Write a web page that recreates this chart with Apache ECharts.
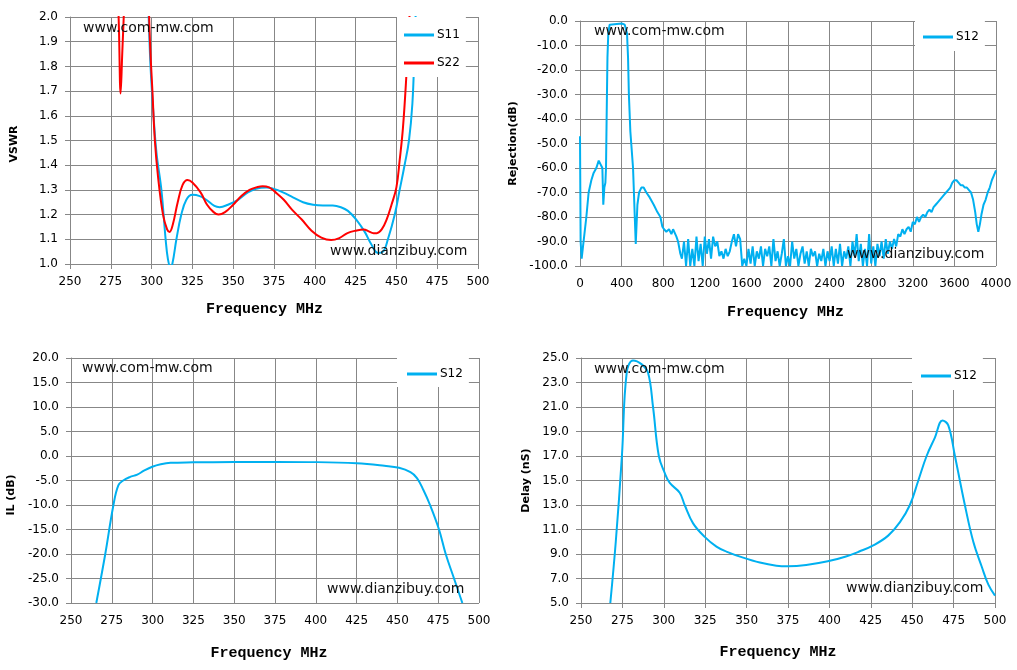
<!DOCTYPE html>
<html>
<head>
<meta charset="utf-8">
<script src="https://cdn.jsdelivr.net/npm/echarts@6/dist/echarts.min.js"></script>
<style>
html, body { margin: 0; padding: 0; background: #fff; }
#wrap { position: relative; width: 1017px; height: 670px; }
.box { position: absolute; width: 509px; height: 335px; }
</style>
</head>
<body>
<div id="wrap">
  <div class="box" id="vswr" style="left:0;top:0"></div>
  <div class="box" id="rejection" style="left:508px;top:0"></div>
  <div class="box" id="insertion" style="left:0;top:335px"></div>
  <div class="box" id="delay" style="left:508px;top:335px"></div>
</div>
<script>
// ======================
// DATA
// ======================
const s11Freq = [297, 299, 301, 303, 306, 308.6, 310, 311.5, 312.7, 315.2, 318.2, 321.3, 325, 329.5, 333.5, 338.5, 341.7, 346.8, 353, 359, 364, 370.3, 374.4, 380.5, 386.6, 392.8, 399, 405, 411, 416, 420.3, 425.4, 430.6, 434.6, 438.7, 441.8, 444.8, 449, 452, 455, 457.7, 459.8, 461, 462, 463.5];
const s11Vswr = [2.3, 1.85, 1.62, 1.45, 1.3, 1.1, 1.02, 0.99, 1.0, 1.1, 1.2, 1.26, 1.28, 1.275, 1.26, 1.235, 1.23, 1.24, 1.26, 1.29, 1.305, 1.31, 1.305, 1.29, 1.27, 1.25, 1.24, 1.237, 1.237, 1.23, 1.215, 1.18, 1.13, 1.08, 1.045, 1.05, 1.1, 1.2, 1.3, 1.4, 1.5, 1.65, 1.85, 2.05, 2.3];

const s22Freq = [278.5, 280, 281, 282, 283.5, 285, 292, 297, 299, 300.5, 302, 304, 307, 309.5, 311, 313, 316, 319, 322, 325, 330, 334, 338, 341, 345, 350, 355, 360, 365, 368, 372, 376, 381, 386, 392, 398, 404, 410, 415, 420, 425, 430, 433, 436, 438, 441, 444, 447, 450, 452, 454, 456, 458, 459.5];
const s22Vswr = [2.3, 1.95, 1.69, 1.85, 2.1, 2.4, 3.0, 2.3, 1.9, 1.7, 1.5, 1.35, 1.2, 1.14, 1.13, 1.16, 1.25, 1.32, 1.34, 1.33, 1.29, 1.24, 1.21, 1.2, 1.21, 1.24, 1.275, 1.3, 1.312, 1.315, 1.31, 1.29, 1.26, 1.22, 1.18, 1.135, 1.107, 1.097, 1.105, 1.125, 1.135, 1.14, 1.132, 1.125, 1.125, 1.14, 1.18, 1.24, 1.31, 1.42, 1.55, 1.75, 2.0, 2.3];

const rejFreq = [0, 6, 16, 29, 45, 61, 83, 109, 131, 157, 180, 199, 215, 224, 234, 244, 250, 256, 264, 272, 285, 300, 400, 430, 445, 452, 462, 470, 484, 510, 536, 552, 568, 590, 612, 638, 670, 709, 744, 773, 792, 808, 830, 856, 879, 895, 927, 943, 965, 980,
  1000, 1020, 1040, 1060, 1080, 1100, 1120, 1140, 1160, 1180, 1200, 1220, 1240, 1260, 1280, 1300, 1320, 1340, 1360, 1380, 1400, 1420, 1440, 1460, 1480, 1500, 1520, 1540, 1560, 1580,
  1600, 1620, 1640, 1660, 1680, 1700, 1720, 1740, 1760, 1780, 1800, 1820, 1840, 1860, 1880, 1900, 1920, 1940, 1960, 1980,
  2000, 2020, 2040, 2060, 2080, 2100, 2120, 2140, 2160, 2180, 2200, 2220, 2240, 2260, 2280, 2300, 2320, 2340, 2360, 2380,
  2400, 2420, 2440, 2460, 2480, 2500, 2520, 2540, 2560, 2580, 2600, 2620, 2640, 2660, 2680, 2700, 2720, 2740, 2760, 2780,
  2800, 2820, 2840, 2860, 2880, 2900, 2920, 2940, 2960, 2980, 3000, 3020, 3040, 3060, 3080, 3100, 3120, 3140, 3160, 3180,
  3200, 3220, 3240, 3260, 3280, 3300, 3320, 3340, 3360, 3380, 3400, 3420, 3440, 3460, 3480, 3500, 3520, 3540, 3560, 3580,
  3600, 3620, 3640, 3660, 3680, 3700, 3720, 3740, 3760, 3780, 3800, 3815, 3830, 3845, 3860, 3880, 3900, 3920, 3940, 3960, 3980, 4000];
const rejS12 = [-47, -90, -97, -92, -92, -80, -70, -65, -62, -60, -57, -57, -60, -75, -68, -66, -60, -40, -15, -5, -1.5, -1, -1, -1.5, -2, -5, -15, -30, -45, -60, -91, -75, -70, -68, -68, -70, -72, -75, -78, -80, -84, -85, -86, -85, -87, -85, -88, -90, -95, -97,
  -90, -100, -89, -100, -93, -100, -88, -98, -91, -100, -88, -95, -89, -97, -88, -92, -90, -96, -94, -97, -93, -96, -94, -90, -87, -92, -87, -89, -100, -97,
  -100, -93, -99, -92, -100, -94, -97, -92, -100, -93, -96, -92, -100, -89, -98, -94, -100, -95, -89, -100,
  -96, -100, -90, -97, -93, -100, -95, -92, -99, -94, -100, -93, -96, -94, -100, -95, -98, -93, -100, -94,
  -98, -92, -100, -93, -99, -91, -100, -94, -97, -92, -100, -90, -96, -87, -98, -91, -100, -93, -100, -87,
  -99, -92, -100, -91, -96, -90, -97, -89, -95, -90, -93, -89, -92, -87, -88, -85, -87, -85, -84, -86,
  -82, -83, -80, -82, -80, -79, -80, -78, -77, -78, -76, -75, -74, -73, -72, -71, -70, -69, -68, -66,
  -65, -65, -66, -67, -67, -68, -68, -69, -70, -73, -78, -83, -86, -83, -79, -75, -73, -70, -68, -65, -63, -61];

const ilFreq = [265.5, 271, 276, 279, 282, 286, 290.6, 294.7, 299.8, 305, 311, 325, 350, 376, 401, 425, 442, 451, 458, 462, 466, 470, 475.5, 479.6, 484.7, 489.8];
const ilS12 = [-30, -20, -10, -6, -5, -4.3, -3.8, -3, -2.2, -1.7, -1.4, -1.3, -1.2, -1.2, -1.25, -1.5, -2.0, -2.4, -3.3, -4.5, -7, -10, -15, -20, -25, -30];

const delayFreq = [267.7, 271, 274.7, 277.6, 281.4, 286.5, 290.5, 293.5, 297, 300.6, 303.6, 309.6, 312.6, 317.7, 324.7, 331.8, 337.8, 347.9, 358, 368, 375, 386, 399, 410, 418, 426.5, 435.5, 442.6, 448.6, 453.7, 458.7, 463.7, 468.3, 471.8, 475.8, 481.8, 486.9, 491.9, 496, 500];
const delayS12 = [5, 10, 17, 23.8, 24.8, 24.5, 23.8, 21, 17, 15.6, 14.8, 14, 13, 11.5, 10.4, 9.6, 9.2, 8.7, 8.3, 8.05, 8, 8.1, 8.4, 8.8, 9.2, 9.7, 10.5, 11.6, 13, 15, 17, 18.5, 19.9, 19.5, 17, 13, 10, 8, 6.5, 5.6];

// ======================
// STYLE
// ======================
const BLUE = "#00B0F0";
const RED = "#FF0000";
const GRIDLINE = "#878787";
const LABEL_FONT = "DejaVu Sans";

const zip = (xs, ys) => xs.map((x, i) => [x, ys[i]]);

function xAxisCfg(min, max, interval, padRight, gap) {
    return {
        type: "value", min, max, interval,
        name: "Frequency MHz",
        nameLocation: "middle",
        nameGap: gap,
        nameTextStyle: {
            fontFamily: "Liberation Mono", fontWeight: "bold", fontSize: 15,
            color: "#000", padding: [0, padRight, 0, 0]
        },
        axisLine: { lineStyle: { color: GRIDLINE } },
        axisTick: { show: true, length: 5, lineStyle: { color: GRIDLINE } },
        axisLabel: {
            color: "#000", fontFamily: LABEL_FONT, fontSize: 12, margin: 12,
            formatter: v => String(v)
        },
        splitLine: { show: true, lineStyle: { color: GRIDLINE, width: 1 } }
    };
}

function yAxisCfg(min, max, interval, name, gap, padRight) {
    return {
        type: "value", min, max, interval,
        name,
        nameLocation: "middle",
        nameGap: gap,
        nameTextStyle: {
            fontFamily: LABEL_FONT, fontWeight: "bold", fontSize: 11,
            color: "#000", padding: [0, padRight, 0, 0]
        },
        axisLine: { show: true, lineStyle: { color: GRIDLINE } },
        axisTick: { show: true, length: 5, lineStyle: { color: GRIDLINE } },
        axisLabel: {
            color: "#000", fontFamily: LABEL_FONT, fontSize: 12, margin: 12,
            formatter: v => v.toFixed(1)
        },
        splitLine: { show: true, lineStyle: { color: GRIDLINE, width: 1 } }
    };
}

function watermarks(a, b) {
    const font = "14px 'DejaVu Sans'";
    return [
        { type: "text", left: a[0], top: a[1], z: 100, style: { text: "www.com-mw.com", font, fill: "#111" } },
        { type: "text", left: b[0], top: b[1], z: 100, style: { text: "www.dianzibuy.com", font, fill: "#111" } }
    ];
}

function legendCfg(left, top, padding, gap) {
    return {
        left, top, padding,
        itemGap: gap,
        orient: "vertical",
        icon: "rect",
        itemWidth: 30,
        itemHeight: 3,
        backgroundColor: "#fff",
        textStyle: { color: "#000", fontFamily: LABEL_FONT, fontSize: 12, padding: [0, 0, 0, -2] },
        z: 10
    };
}

function lineSeries(name, data, color, smooth) {
    return {
        name, type: "line", data, smooth,
        symbol: "none",
        clip: true,
        lineStyle: { color, width: 2 },
        itemStyle: { color }
    };
}

function gridCfg(left, top, width, height) {
    return { left, top, width, height, containLabel: false, outerBoundsMode: "none" };
}

function renderCharts() {
    const charts = [];

    // VSWR
    const vswr = echarts.init(document.getElementById("vswr"));
    vswr.setOption({
        animation: false,
        grid: gridCfg(70, 17, 408, 247),
        xAxis: xAxisCfg(250, 500, 25, 19, 38),
        yAxis: yAxisCfg(1, 2, 0.1, "VSWR", 50, 7),
        legend: legendCfg(397, 17, [12, 6, 8, 7], 16),
        graphic: watermarks([83, 21], [330, 244]),
        series: [
            lineSeries("S11", zip(s11Freq, s11Vswr), BLUE, 0.4),
            lineSeries("S22", zip(s22Freq, s22Vswr), RED, 0.4)
        ]
    });
    charts.push(vswr);

    // REJECTION
    const rej = echarts.init(document.getElementById("rejection"));
    rej.setOption({
        animation: false,
        grid: gridCfg(72, 21, 416, 245),
        xAxis: xAxisCfg(0, 4000, 400, 5, 39),
        yAxis: yAxisCfg(-100, 0, 10, "Rejection(dB)", 54, 0),
        legend: legendCfg(407, 21, [10, 6, 8, 8], 10),
        graphic: watermarks([86, 24], [339, 247]),
        series: [lineSeries("S12", zip(rejFreq, rejS12), BLUE, false)]
    });
    charts.push(rej);

    // INSERTION LOSS
    const il = echarts.init(document.getElementById("insertion"));
    il.setOption({
        animation: false,
        grid: gridCfg(71, 23, 408, 245),
        xAxis: xAxisCfg(250, 500, 25, 12, 43),
        yAxis: yAxisCfg(-30, 20, 5, "IL (dB)", 46, 29),
        legend: legendCfg(397, 23, [10, 6, 7, 10], 10),
        graphic: watermarks([82, 26], [327, 247]),
        series: [lineSeries("S12", zip(ilFreq, ilS12), BLUE, 0.4)]
    });
    charts.push(il);

    // DELAY
    const delay = echarts.init(document.getElementById("delay"));
    delay.setOption({
        animation: false,
        grid: gridCfg(73, 23, 414, 245),
        xAxis: xAxisCfg(250, 500, 25, 20, 42),
        yAxis: yAxisCfg(5, 25, 2, "Delay (nS)", 45, 0),
        legend: legendCfg(404, 23, [12, 6, 8, 9], 10),
        graphic: watermarks([86, 27], [338, 246]),
        series: [lineSeries("S12", zip(delayFreq, delayS12), BLUE, 0.4)]
    });
    charts.push(delay);

    window.addEventListener("resize", () => charts.forEach(c => c.resize()));
}

renderCharts();
</script>
</body>
</html>
